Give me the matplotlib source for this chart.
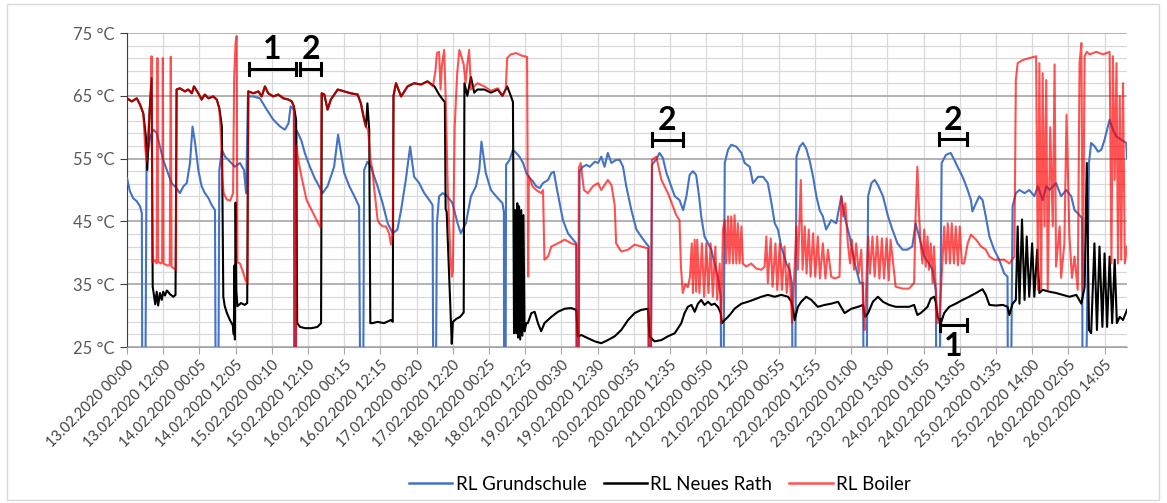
import numpy as np
import matplotlib
matplotlib.use("Agg")
import matplotlib.pyplot as plt
from matplotlib.patches import Rectangle
from matplotlib.lines import Line2D

plt.rcParams['font.family'] = ['Lato', 'DejaVu Sans']

# x = Messpunkt-Position in Einheiten der Achsbeschriftung (0 = 13.02.2020 00:00)
labels = ['13.02.2020 00:00', '13.02.2020 12:00', '14.02.2020 00:05', '14.02.2020 12:05',
          '15.02.2020 00:10', '15.02.2020 12:10', '16.02.2020 00:15', '16.02.2020 12:15',
          '17.02.2020 00:20', '17.02.2020 12:20', '18.02.2020 00:25', '18.02.2020 12:25',
          '19.02.2020 00:30', '19.02.2020 12:30', '20.02.2020 00:35', '20.02.2020 12:35',
          '21.02.2020 00:50', '21.02.2020 12:50', '22.02.2020 00:55', '22.02.2020 12:55',
          '23.02.2020 01:00', '23.02.2020 13:00', '24.02.2020 01:05', '24.02.2020 13:05',
          '25.02.2020 01:35', '25.02.2020 14:00', '26.02.2020 02:05', '26.02.2020 14:05']

# RL Grundschule
gs_t = [0.00, 0.08, 0.17, 0.27, 0.36, 0.41, 0.43, 0.49, 0.54, 0.64, 0.73, 0.82, 0.91, 1.00, 1.10, 1.23,
        1.37, 1.46, 1.56, 1.65, 1.74, 1.81, 1.88, 1.97, 2.06, 2.15, 2.25, 2.34, 2.43, 2.46, 2.51, 2.55,
        2.62, 2.71, 2.85, 2.98, 3.12, 3.23, 3.29, 3.34, 3.49, 3.67, 3.86, 4.04, 4.23, 4.36, 4.46, 4.52,
        4.61, 4.63, 4.66, 4.68, 4.73, 4.82, 4.91, 5.05, 5.19, 5.26, 5.40, 5.54, 5.72, 5.83, 5.91, 6.00,
        6.14, 6.28, 6.41, 6.46, 6.51, 6.55, 6.64, 6.74, 6.83, 6.92, 7.06, 7.20, 7.34, 7.47, 7.57, 7.70,
        7.82, 7.93, 8.07, 8.21, 8.35, 8.44, 8.47, 8.51, 8.56, 8.62, 8.72, 8.85, 8.99, 9.13, 9.22, 9.36,
        9.50, 9.64, 9.73, 9.79, 9.91, 10.05, 10.24, 10.37, 10.41, 10.42, 10.45, 10.47, 10.57, 10.66, 10.75, 10.84,
        10.94, 11.03, 11.12, 11.21, 11.30, 11.40, 11.49, 11.63, 11.72, 11.79, 11.86, 11.95, 12.04, 12.18, 12.32, 12.41,
        12.43, 12.46, 12.50, 12.59, 12.69, 12.78, 12.92, 13.01, 13.10, 13.19, 13.28, 13.38, 13.51, 13.61, 13.70, 13.79,
        13.93, 14.07, 14.20, 14.34, 14.41, 14.42, 14.45, 14.50, 14.62, 14.71, 14.80, 14.90, 15.03, 15.13, 15.26, 15.36,
        15.45, 15.54, 15.63, 15.72, 15.80, 15.86, 15.95, 16.05, 16.14, 16.23, 16.32, 16.40, 16.42, 16.46, 16.51, 16.60,
        16.69, 16.83, 16.97, 17.06, 17.20, 17.29, 17.43, 17.57, 17.70, 17.80, 17.89, 17.98, 18.07, 18.21, 18.30, 18.37,
        18.39, 18.44, 18.49, 18.58, 18.67, 18.76, 18.85, 18.95, 19.04, 19.13, 19.22, 19.31, 19.45, 19.59, 19.73, 19.82,
        19.96, 20.10, 20.24, 20.33, 20.36, 20.40, 20.47, 20.56, 20.65, 20.74, 20.88, 21.02, 21.14, 21.28, 21.42, 21.55,
        21.69, 21.78, 21.88, 22.02, 22.15, 22.25, 22.34, 22.37, 22.42, 22.50, 22.62, 22.75, 22.85, 22.94, 23.08, 23.22,
        23.31, 23.35, 23.45, 23.54, 23.63, 23.72, 23.82, 23.95, 24.09, 24.23, 24.32, 24.34, 24.39, 24.46, 24.55, 24.65,
        24.79, 24.92, 25.06, 25.16, 25.29, 25.39, 25.48, 25.66, 25.80, 25.94, 26.08, 26.17, 26.26, 26.38, 26.40, 26.45,
        26.57, 26.63, 26.72, 26.82, 26.91, 27.00, 27.14, 27.23, 27.33, 27.46, 27.60, 27.62]
gs_v = [51.9, 49.8, 48.7, 48.2, 47.4, 46.3, 0, 0, 54.3, 58.5, 59.6, 59.1, 56.9, 54.8, 53.2, 51.1,
        50.3, 49.5, 50.6, 51.1, 54.3, 60.1, 57.5, 53.2, 50.6, 49.5, 48.7, 47.6, 46.8, 0, 0, 53.2,
        56.4, 55.3, 54.5, 53.7, 54.3, 53.2, 49.5, 64.9, 64.9, 64.6, 62.8, 61.2, 60.1, 59.6, 60.6, 63.3,
        62.8, 0, 0, 59.5, 59.0, 57.8, 55.9, 53.7, 51.8, 51.1, 49.5, 50.6, 53.7, 58.8, 55.9, 52.7,
        50.6, 49.0, 47.4, 0, 0, 53.2, 54.5, 53.7, 52.1, 50.6, 47.9, 44.7, 43.1, 43.7, 46.8, 51.6,
        56.9, 52.1, 51.1, 49.5, 48.4, 47.6, 0, 0, 44.7, 49.0, 49.5, 49.0, 47.9, 44.7, 43.1, 44.7,
        49.0, 50.6, 53.2, 57.7, 52.7, 50.0, 48.7, 47.9, 46.5, 0, 0, 54.0, 54.8, 56.4, 55.9, 55.3,
        54.3, 52.7, 51.9, 51.4, 50.6, 50.3, 51.1, 51.6, 52.7, 52.9, 50.6, 47.9, 45.2, 43.1, 42.1, 41.5,
        0, 0, 53.0, 53.7, 54.0, 53.7, 54.5, 54.3, 55.3, 53.7, 55.9, 54.3, 54.8, 54.8, 53.7, 50.6,
        46.8, 43.7, 42.6, 41.5, 41.0, 0, 0, 54.0, 54.9, 55.9, 55.1, 52.7, 50.6, 49.0, 48.4, 46.8,
        49.0, 52.4, 53.0, 52.4, 49.0, 45.8, 42.6, 41.5, 40.5, 38.3, 36.2, 33.0, 0, 0, 54.3, 56.4,
        57.2, 56.9, 55.9, 54.3, 53.7, 51.1, 52.1, 52.1, 51.1, 47.9, 44.7, 43.7, 41.0, 38.3, 37.3, 35.0,
        0, 0, 55.3, 56.9, 57.5, 56.6, 54.8, 52.1, 49.0, 46.8, 45.8, 43.7, 45.2, 44.7, 49.0, 45.8,
        42.6, 38.3, 35.2, 35.2, 0, 0, 49.0, 51.1, 51.6, 50.8, 49.0, 45.8, 43.7, 41.5, 40.5, 40.5,
        41.0, 44.7, 42.6, 39.4, 38.3, 37.3, 34.0, 0, 0, 54.3, 55.6, 55.9, 54.8, 53.7, 52.1, 50.0,
        48.4, 46.6, 47.9, 49.0, 48.4, 45.8, 42.6, 40.5, 38.9, 36.7, 36.2, 0, 0, 47.4, 49.5, 50.0,
        49.5, 50.0, 49.0, 50.6, 48.4, 50.6, 50.0, 51.1, 49.0, 50.0, 49.0, 46.8, 46.3, 45.5, 0, 0,
        54.3, 57.5, 57.0, 56.1, 56.4, 58.0, 61.2, 59.6, 58.5, 58.0, 57.5, 55.0]

# RL Neues Rath
nr_t = [0.00, 0.13, 0.27, 0.36, 0.45, 0.52, 0.56, 0.62, 0.68, 0.71, 0.75, 0.78, 0.82, 0.86, 0.91, 0.96,
        1.00, 1.05, 1.10, 1.19, 1.28, 1.34, 1.37, 1.46, 1.60, 1.69, 1.79, 1.85, 1.97, 2.06, 2.15, 2.25,
        2.38, 2.48, 2.55, 2.62, 2.66, 2.70, 2.76, 2.85, 2.92, 2.95, 2.97, 2.98, 3.00, 3.02, 3.05, 3.15,
        3.25, 3.32, 3.35, 3.49, 3.63, 3.72, 3.81, 3.90, 4.04, 4.18, 4.32, 4.46, 4.55, 4.61, 4.67, 4.70,
        4.78, 4.92, 5.10, 5.26, 5.36, 5.38, 5.45, 5.54, 5.63, 5.82, 6.00, 6.18, 6.37, 6.46, 6.55, 6.60,
        6.64, 6.69, 6.72, 6.78, 6.92, 7.10, 7.29, 7.34, 7.36, 7.43, 7.57, 7.75, 7.93, 8.12, 8.30, 8.49,
        8.62, 8.72, 8.78, 8.80, 8.83, 8.97, 9.00, 9.10, 9.20, 9.30, 9.32, 9.40, 9.50, 9.59, 9.68, 9.87,
        10.05, 10.24, 10.37, 10.50, 10.60, 10.66, 10.69, 10.72, 10.75, 10.78, 10.80, 10.83, 10.86, 10.89, 10.92, 10.95,
        10.98, 11.03, 11.07, 11.17, 11.26, 11.35, 11.44, 11.53, 11.72, 11.90, 12.09, 12.27, 12.41, 12.45, 12.55, 12.73,
        12.92, 13.10, 13.28, 13.47, 13.65, 13.84, 14.02, 14.20, 14.39, 14.43, 14.57, 14.76, 14.94, 15.13, 15.31, 15.40,
        15.49, 15.59, 15.68, 15.77, 15.86, 15.95, 16.05, 16.14, 16.23, 16.32, 16.40, 16.43, 16.51, 16.60, 16.69, 16.78,
        16.97, 17.15, 17.34, 17.52, 17.70, 17.89, 18.07, 18.26, 18.35, 18.40, 18.44, 18.53, 18.62, 18.76, 18.90, 19.08,
        19.27, 19.45, 19.64, 19.82, 20.01, 20.19, 20.33, 20.39, 20.47, 20.60, 20.74, 20.88, 21.05, 21.23, 21.42, 21.60,
        21.74, 21.83, 21.92, 22.02, 22.11, 22.20, 22.29, 22.34, 22.39, 22.48, 22.57, 22.71, 22.89, 23.08, 23.26, 23.45,
        23.63, 23.72, 23.82, 24.00, 24.19, 24.32, 24.37, 24.46, 24.55, 24.60, 24.65, 24.72, 24.79, 24.85, 24.92, 25.00,
        25.06, 25.14, 25.20, 25.29, 25.48, 25.66, 25.85, 26.03, 26.22, 26.36, 26.45, 26.51, 26.57, 26.63, 26.72, 26.79,
        26.86, 26.94, 27.00, 27.07, 27.14, 27.21, 27.28, 27.34, 27.42, 27.51, 27.62]
nr_v = [64.6, 64.1, 64.6, 63.6, 62.2, 58.5, 53.2, 62.2, 67.8, 34.6, 33.0, 31.8, 33.8, 31.6, 33.6, 32.5,
        33.8, 33.2, 34.0, 33.4, 33.0, 33.3, 66.0, 66.2, 65.7, 66.0, 65.4, 66.5, 65.4, 64.4, 65.2, 64.6,
        64.9, 64.4, 63.0, 60.1, 33.0, 31.5, 30.4, 29.2, 28.5, 27.0, 38.0, 26.2, 48.0, 34.0, 31.5, 32.0,
        31.7, 32.0, 65.7, 65.4, 65.7, 64.9, 66.5, 65.4, 64.9, 65.2, 64.6, 64.4, 64.1, 63.3, 61.2, 28.8,
        28.2, 28.0, 28.0, 28.2, 28.8, 65.4, 65.2, 62.8, 64.4, 66.0, 65.7, 65.4, 65.2, 63.8, 61.2, 60.1,
        63.8, 59.6, 28.8, 28.8, 29.0, 28.8, 29.3, 29.0, 65.0, 67.0, 64.9, 66.5, 67.0, 66.8, 67.3, 66.5,
        65.2, 64.4, 64.0, 47.0, 46.5, 25.5, 29.0, 29.5, 29.8, 30.5, 67.0, 65.0, 68.0, 65.5, 66.0, 66.0,
        65.5, 66.0, 65.0, 66.5, 65.0, 64.0, 27.2, 46.8, 27.2, 47.9, 26.5, 47.4, 26.2, 46.8, 26.8, 46.0,
        27.5, 28.8, 28.8, 30.4, 30.6, 28.8, 27.5, 28.8, 29.8, 30.6, 31.1, 31.2, 30.9, 26.7, 26.9, 26.4,
        25.9, 25.6, 26.1, 26.7, 27.7, 29.3, 30.4, 30.9, 31.1, 26.7, 25.9, 26.1, 26.7, 27.2, 28.8, 30.4,
        31.4, 31.7, 30.6, 31.9, 32.5, 31.7, 32.2, 31.7, 31.9, 31.4, 30.4, 28.8, 29.3, 29.8, 30.4, 31.1,
        31.9, 32.2, 32.6, 33.0, 33.3, 33.0, 33.3, 33.0, 32.2, 30.9, 29.3, 31.4, 32.2, 33.0, 32.5, 31.4,
        31.7, 31.9, 32.2, 30.4, 31.1, 31.4, 31.7, 29.8, 30.4, 32.2, 33.0, 32.2, 31.7, 31.4, 31.4, 31.4,
        31.7, 30.1, 30.4, 30.9, 31.4, 32.7, 33.0, 32.2, 29.8, 28.8, 30.4, 31.4, 31.9, 32.5, 33.0, 33.6,
        34.2, 33.3, 31.7, 31.6, 31.7, 31.4, 30.1, 31.9, 32.5, 44.2, 31.9, 45.3, 32.5, 42.6, 33.0, 41.5,
        33.0, 40.5, 33.6, 34.1, 33.8, 33.6, 33.3, 33.0, 33.3, 31.9, 34.6, 54.3, 27.7, 27.2, 41.5, 27.7,
        41.0, 28.2, 39.9, 28.2, 39.4, 28.8, 38.9, 28.8, 29.8, 29.3, 30.9]

# RL Boiler
bo_t = [0.00, 0.13, 0.27, 0.36, 0.45, 0.50, 0.54, 0.58, 0.62, 0.66, 0.68, 0.70, 0.76, 0.82, 0.84, 0.86,
        0.93, 0.97, 0.99, 1.01, 1.10, 1.18, 1.21, 1.23, 1.30, 1.35, 1.37, 1.46, 1.60, 1.69, 1.79, 1.85,
        1.97, 2.06, 2.15, 2.25, 2.38, 2.48, 2.55, 2.60, 2.63, 2.67, 2.75, 2.85, 2.93, 2.96, 3.00, 3.03,
        3.05, 3.12, 3.20, 3.28, 3.33, 3.35, 3.49, 3.63, 3.72, 3.81, 3.90, 4.04, 4.18, 4.32, 4.46, 4.55,
        4.61, 4.63, 4.66, 4.68, 4.73, 4.82, 4.96, 5.15, 5.29, 5.35, 5.37, 5.45, 5.54, 5.63, 5.82, 6.00,
        6.18, 6.37, 6.46, 6.55, 6.60, 6.66, 6.72, 6.78, 6.83, 6.87, 6.92, 6.97, 7.06, 7.15, 7.24, 7.29,
        7.34, 7.36, 7.43, 7.57, 7.75, 7.93, 8.12, 8.30, 8.45, 8.52, 8.56, 8.62, 8.66, 8.70, 8.76, 8.80,
        8.86, 8.93, 8.97, 9.00, 9.05, 9.12, 9.18, 9.25, 9.30, 9.35, 9.40, 9.45, 9.50, 9.59, 9.68, 9.87,
        10.05, 10.24, 10.37, 10.46, 10.50, 10.60, 10.75, 10.90, 11.05, 11.08, 11.10, 11.20, 11.30, 11.44, 11.49, 11.53,
        11.63, 11.72, 11.90, 12.09, 12.27, 12.41, 12.43, 12.46, 12.48, 12.53, 12.62, 12.73, 12.87, 13.01, 13.10, 13.28,
        13.38, 13.47, 13.51, 13.65, 13.84, 14.02, 14.20, 14.39, 14.42, 14.45, 14.50, 14.62, 14.76, 14.94, 15.08, 15.17,
        15.26, 15.30, 15.35, 15.42, 15.49, 15.55, 15.60, 15.63, 15.68, 15.72, 15.75, 15.81, 15.88, 15.94, 16.00, 16.06,
        16.12, 16.18, 16.25, 16.30, 16.37, 16.41, 16.46, 16.51, 16.55, 16.60, 16.64, 16.69, 16.74, 16.78, 16.83, 16.87,
        16.92, 16.97, 17.01, 17.10, 17.24, 17.38, 17.52, 17.61, 17.66, 17.70, 17.78, 17.83, 17.91, 17.96, 18.03, 18.09,
        18.16, 18.22, 18.29, 18.37, 18.49, 18.53, 18.61, 18.66, 18.72, 18.77, 18.83, 18.88, 18.95, 19.01, 19.08, 19.14,
        19.22, 19.29, 19.36, 19.45, 19.55, 19.68, 19.73, 19.78, 19.84, 19.91, 19.97, 20.02, 20.08, 20.14, 20.21, 20.28,
        20.34, 20.37, 20.47, 20.52, 20.59, 20.65, 20.72, 20.78, 20.85, 20.91, 20.98, 21.04, 21.09, 21.23, 21.42, 21.60,
        21.74, 21.78, 21.83, 21.88, 21.92, 21.97, 22.02, 22.06, 22.11, 22.15, 22.20, 22.25, 22.29, 22.34, 22.39, 22.43,
        22.52, 22.57, 22.62, 22.67, 22.73, 22.78, 22.84, 22.89, 22.95, 23.00, 23.06, 23.12, 23.22, 23.31, 23.45, 23.59,
        23.72, 23.82, 23.95, 24.09, 24.23, 24.37, 24.51, 24.55, 24.60, 24.74, 24.92, 25.11, 25.16, 25.20, 25.25, 25.29,
        25.34, 25.39, 25.43, 25.50, 25.57, 25.62, 25.66, 25.76, 25.80, 25.89, 25.95, 26.03, 26.10, 26.17, 26.26, 26.31,
        26.36, 26.40, 26.45, 26.51, 26.59, 26.77, 26.96, 27.14, 27.19, 27.23, 27.28, 27.33, 27.37, 27.42, 27.46, 27.51,
        27.56, 27.62]
bo_v = [64.6, 64.1, 64.6, 63.6, 62.2, 57.0, 54.5, 58.0, 62.2, 66.0, 71.3, 38.5, 38.8, 38.3, 71.0, 38.6,
        38.3, 38.5, 71.0, 38.3, 38.0, 38.0, 71.2, 37.8, 37.5, 37.3, 66.0, 66.2, 65.7, 66.0, 65.4, 66.5,
        65.4, 64.4, 65.2, 64.6, 64.9, 64.4, 63.0, 58.0, 52.0, 49.5, 48.5, 48.3, 49.5, 68.0, 73.5, 74.5,
        38.5, 38.3, 37.0, 35.5, 35.2, 65.7, 65.4, 65.7, 64.9, 66.5, 65.4, 64.9, 65.2, 64.6, 64.4, 64.1,
        63.3, 0, 0, 57.0, 54.8, 52.1, 48.4, 46.2, 44.6, 44.0, 65.4, 65.2, 62.8, 64.4, 66.0, 65.7,
        65.4, 65.2, 63.8, 61.2, 60.1, 59.6, 55.0, 53.2, 50.0, 48.0, 45.3, 44.7, 44.2, 44.2, 43.1, 41.3,
        43.5, 65.0, 67.0, 64.9, 66.5, 67.0, 66.8, 67.3, 66.5, 69.0, 71.8, 72.0, 66.0, 70.0, 72.3, 65.0,
        50.0, 40.0, 36.2, 37.0, 60.0, 68.6, 72.3, 71.0, 70.0, 67.0, 70.0, 72.3, 66.0, 66.5, 67.0, 66.5,
        65.8, 66.2, 65.0, 66.0, 71.0, 71.6, 71.8, 71.4, 71.2, 36.2, 52.2, 50.6, 50.0, 49.5, 50.0, 38.9,
        39.4, 41.0, 41.5, 42.1, 41.5, 41.3, 0, 0, 53.5, 54.3, 50.0, 49.5, 50.6, 51.1, 50.0, 51.6,
        50.8, 47.6, 41.5, 40.2, 40.5, 41.3, 41.0, 40.7, 0, 0, 54.8, 55.3, 51.6, 49.5, 47.4, 46.0,
        45.2, 37.8, 33.6, 35.0, 34.5, 36.2, 41.5, 33.6, 42.1, 33.8, 42.1, 33.6, 41.5, 33.0, 41.5, 33.6,
        41.5, 33.0, 41.0, 32.5, 38.3, 28.8, 43.7, 45.2, 38.3, 45.8, 38.3, 45.8, 38.3, 46.0, 38.3, 44.7,
        38.3, 44.2, 38.3, 37.8, 38.3, 37.5, 37.3, 37.8, 42.6, 35.2, 42.3, 34.6, 41.5, 34.1, 41.5, 34.1,
        41.0, 33.6, 38.3, 28.8, 44.2, 37.3, 51.6, 37.3, 44.2, 36.7, 43.7, 36.2, 43.1, 36.2, 42.6, 35.9,
        41.5, 35.9, 40.5, 36.2, 35.9, 36.2, 49.0, 45.8, 47.9, 41.5, 38.3, 42.1, 37.3, 41.5, 36.7, 40.5,
        30.4, 27.7, 42.6, 36.7, 42.6, 36.2, 42.6, 35.9, 42.3, 35.9, 42.3, 35.6, 42.1, 34.6, 34.3, 34.3,
        35.2, 45.8, 53.7, 45.8, 41.5, 38.3, 43.7, 37.8, 42.6, 37.3, 41.5, 35.2, 41.0, 34.1, 28.8, 29.0,
        38.3, 44.2, 38.3, 44.7, 38.3, 44.7, 38.3, 44.2, 38.0, 44.2, 38.3, 38.3, 41.5, 42.9, 42.1, 41.0,
        40.5, 39.4, 38.9, 38.9, 38.9, 38.3, 39.4, 67.5, 70.2, 70.7, 71.0, 71.3, 34.1, 70.2, 34.1, 68.6,
        44.2, 67.5, 34.1, 60.0, 44.2, 70.0, 37.8, 44.2, 36.0, 41.5, 62.0, 42.6, 36.0, 39.4, 34.1, 70.2,
        73.4, 34.1, 71.3, 72.0, 71.6, 72.0, 71.6, 72.0, 38.3, 71.3, 51.6, 70.2, 38.3, 65.0, 38.9, 67.0,
        38.3, 41.0]

# Markierungen im Diagramm: (Nummer, Start, Ende, Hoehe der Klammer, Lage der Zahl)
marks = [('1', 3.37, 4.67, 69.3, 'above'), ('2', 4.78, 5.36, 69.3, 'above'),
         ('2', 14.50, 15.36, 58.0, 'above'), ('2', 22.43, 23.20, 58.1, 'above'),
         ('1', 22.46, 23.20, 28.5, 'below')]

fig = plt.figure(figsize=(11.67, 5.03), dpi=100)
fig.patches.append(Rectangle((7 / 1167, 3 / 503), 1152 / 1167, 496 / 503, transform=fig.transFigure,
                             fill=False, ec='#D9D9D9', lw=1))
ax = fig.add_axes([127 / 1167, 1 - 347 / 503, 1000 / 1167, 314 / 503])

ax.plot(gs_t, gs_v, color='#4472C4', lw=1.5, zorder=3)
ax.plot(nr_t, nr_v, color='black', lw=1.5, zorder=4)
ax.plot(bo_t, bo_v, color='#FF0000', alpha=0.68, lw=1.5, zorder=5)

ax.set_xlim(0, 27.62)
ax.set_ylim(25, 75)
ax.set_yticks([25, 35, 45, 55, 65, 75])
ax.set_yticklabels([f'{v} °C' for v in [25, 35, 45, 55, 65, 75]], color='#595959', fontsize=12)
ax.set_yticks(np.arange(27, 75, 2), minor=True)
ax.set_xticks(range(len(labels)))
ax.set_xticklabels(labels, rotation=45, ha='right', va='top', rotation_mode='anchor',
                   fontsize=10.5, color='#404040')
ax.grid(which='major', axis='y', color='#A6A6A6', lw=1.2)
ax.grid(which='minor', axis='y', color='#D9D9D9', lw=0.9)
ax.grid(which='major', axis='x', color='#D9D9D9', lw=0.9)
ax.set_axisbelow(True)
ax.tick_params(axis='y', which='major', length=5, color='#404040', pad=4)
ax.tick_params(axis='y', which='minor', length=0)
ax.tick_params(axis='x', length=5, color='#A6A6A6', pad=3)
for s in ['top', 'right']:
    ax.spines[s].set_visible(False)
ax.spines['left'].set_color('#404040')
ax.spines['bottom'].set_color('#A6A6A6')

for num, a, b, lvl, pos in marks:
    ax.plot([a, b], [lvl, lvl], color='black', lw=2.2, clip_on=False, zorder=8)
    ax.plot([a, a], [lvl - 1.0, lvl + 1.0], color='black', lw=2.2, clip_on=False, zorder=8)
    ax.plot([b, b], [lvl - 1.0, lvl + 1.0], color='black', lw=2.2, clip_on=False, zorder=8)
    ty = lvl + 3.0 if pos == 'above' else lvl - 3.4
    ax.text((a + b) / 2, ty, num, ha='center', va='center', fontsize=23, fontweight='bold',
            clip_on=False, zorder=9)

handles = [Line2D([], [], color='#4472C4', lw=1.8),
           Line2D([], [], color='black', lw=1.8),
           Line2D([], [], color='#FF0000', alpha=0.68, lw=1.8)]
fig.legend(handles, ['RL Grundschule', 'RL Neues Rath', 'RL Boiler'], loc='center',
           bbox_to_anchor=(660 / 1167, 1 - 484 / 503), ncol=3, frameon=False, fontsize=13.5,
           handlelength=2.3, handletextpad=0.2, columnspacing=0.9)

fig.savefig('out.png', dpi=100)
